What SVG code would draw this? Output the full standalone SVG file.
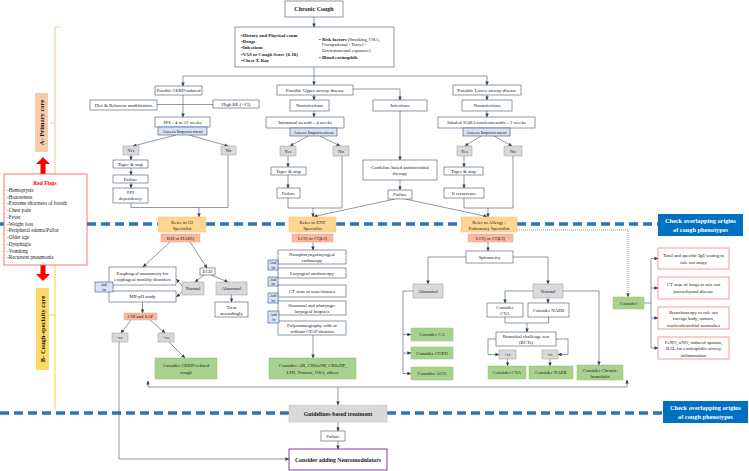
<svg xmlns="http://www.w3.org/2000/svg" width="749" height="471" viewBox="0 0 749 471">
<defs>
<marker id="a" markerWidth="4" markerHeight="4" refX="3.6" refY="2" orient="auto-start-reverse" markerUnits="userSpaceOnUse"><path d="M0,0.3 L4,2 L0,3.7z" fill="#2f3f57"/></marker>
<style>
text{font-family:"Liberation Serif","Times New Roman",serif;font-size:4.8px;fill:#1a1a1a;text-anchor:middle}
.l{text-anchor:start}
.bd{font-weight:bold}
.n rect{fill:#fff;stroke:#44546a;stroke-width:0.6}
.g rect{fill:#d9d9d9;stroke:#a6a6a6;stroke-width:0.6}
.o rect{fill:#ffd592;stroke:#f6c07a;stroke-width:0.5}
.s rect{fill:#f8b8a0;stroke:#f4a582;stroke-width:0.5}
.gr rect{fill:#a9d18e;stroke:#90c070;stroke-width:0.5}
.bl rect{fill:#dae3f3;stroke:#2f5597;stroke-width:0.6}
.p rect{fill:#fff;stroke:#ff7c80;stroke-width:0.8}
.ck rect{fill:#0070c0}
.ck text{fill:#fff;font-weight:bold;font-size:6.3px}
.ao text{font-size:3.8px}
#conn path{fill:none;stroke:#44546a;stroke-width:0.6}
#conn .ar{marker-end:url(#a)}
.dash{fill:none;stroke:#2e75b6;stroke-width:3.5;stroke-dasharray:9 5}
</style>
</defs>
<rect width="749" height="471" fill="#fff"/>

<!-- brackets -->
<path d="M60,27 H55 V174 M50,123 H55" fill="none" stroke="#f4b183" stroke-width="0.8"/>
<path d="M55,265 V410 M49,315 H55" fill="none" stroke="#ffc000" stroke-width="0.8"/>
<g id="labelA"><rect x="35" y="93" width="13" height="59" fill="#f8cbad"/><text class="bd" transform="translate(43.6,122.5) rotate(-90)" style="font-size:6.5px">A- Primary care</text></g>
<g id="labelB"><rect x="36" y="288" width="13" height="82" fill="#ffd966"/><text class="bd" transform="translate(44.6,329) rotate(-90)" style="font-size:6.5px">B- Cough-specialty care</text></g>

<!-- dashed separators -->
<path class="dash" d="M0,224 H4 M87,224 H158 M206,224 H289 M336,224 H461 M517,224 H658"/>
<path class="dash" d="M0,413 H289 M387,413 H663"/>

<!-- red arrows -->
<g id="redarrows" fill="#ff0000">
<path d="M40.5,175 V164 H36 L43,157 L50,164 H45.5 V175z"/>
<path d="M40.5,265 V274 H36 L43,281 L50,274 H45.5 V265z"/>
</g>
<g id="redflags">
<rect x="4" y="174" width="83" height="91" fill="#fff" stroke="#ff5050" stroke-width="0.8"/>
<text x="45" y="184.5" class="bd" style="fill:#ff0000;font-size:5.5px">Red Flags</text>
<g style="font-size:5.2px">
<text class="l" x="7" y="191.7" style="font-size:5.2px">-Hemoptysis</text>
<text class="l" x="7" y="198.5" style="font-size:5.2px">-Hoarseness</text>
<text class="l" x="7" y="205.2" style="font-size:5.2px">-Extreme shortness of breath</text>
<text class="l" x="7" y="212" style="font-size:5.2px">-Chest pain</text>
<text class="l" x="7" y="218.8" style="font-size:5.2px">-Fever</text>
<text class="l" x="7" y="225.5" style="font-size:5.2px">-Weight loss</text>
<text class="l" x="7" y="232.3" style="font-size:5.2px">-Peripheral edema/Pallor</text>
<text class="l" x="7" y="239.1" style="font-size:5.2px">-Older age</text>
<text class="l" x="7" y="245.8" style="font-size:5.2px">-Dysphagia</text>
<text class="l" x="7" y="252.6" style="font-size:5.2px">-Vomiting</text>
<text class="l" x="7" y="259.4" style="font-size:5.2px">-Recurrent pneumonia</text>
</g>
</g>

<!-- connectors -->
<g id="conn">
<path class="ar" d="M314,17 V27"/>
<path d="M183,76 H487"/>
<path class="ar" d="M183,76 V86"/>
<path class="ar" d="M314,67 V85"/>
<path class="ar" d="M487,76 V85"/>
<path class="ar" d="M353,89 H400 V100"/>
<path class="ar" d="M183,95 V117"/>
<path d="M157,104.5 H213"/>
<path class="ar" d="M176,135 L133,146"/>
<path class="ar" d="M189,135 L228,146"/>
<path class="ar" d="M131,155 V160"/>
<path class="ar" d="M131,168 V175"/>
<path class="ar" d="M131,183 V188"/>
<path d="M131,203 V207.5 H228 M228,155 V207.5"/>
<path class="ar" d="M199,207.5 V217"/>
<path class="ar" d="M170,242 L143,267"/>
<path class="ar" d="M190,242 L207,268"/>
<path class="ar" d="M204,275 L195,282"/>
<path class="ar" d="M211,275 L228,282"/>
<path class="ar" d="M231.5,295 V302"/>
<path class="ar" d="M182,286 L176.5,279"/>
<path class="ar" d="M182,292 L176.5,297"/>
<path class="ar" d="M142.5,302 V313"/>
<path class="ar" d="M131,320 L121,333"/>
<path class="ar" d="M150,320 L165,333"/>
<path class="ar" d="M169,342 L185,358"/>
<path class="ar" d="M119,342 V459 H289"/>
<path class="ar" d="M148,381 V387 H627 V380" style="marker-start:url(#a)"/>
<path class="ar" d="M338,387 V405"/>
<path class="ar" d="M338,422 V431"/>
<path class="ar" d="M338,441 V449"/>
<!-- ENT -->
<path class="ar" d="M314,95 V100"/>
<path class="ar" d="M314,111 V117"/>
<path class="ar" d="M308,136 L290,146"/>
<path class="ar" d="M320,136 L340,146"/>
<path class="ar" d="M288,156 V167"/>
<path class="ar" d="M288,175 V188"/>
<path d="M288,198 V208 H342 M342,156 V208"/>
<path class="ar" d="M313,208 V217"/>
<path class="ar" d="M313,242 V250"/>
<path class="ar" d="M313,335 V358"/>
<!-- infectious -->
<path class="ar" d="M400,111 V160"/>
<path class="ar" d="M400,180 V190"/>
<path class="ar" d="M395,199 L314,216.5"/>
<path class="ar" d="M405,199 L487,216.5"/>
<!-- lower airway -->
<path class="ar" d="M487,95 V100"/>
<path class="ar" d="M487,111 V117"/>
<path class="ar" d="M481,136 L465,146"/>
<path class="ar" d="M494,136 L512,146"/>
<path class="ar" d="M464,156 V167"/>
<path class="ar" d="M464,175 V188"/>
<path d="M464,198 V208 H513 M513,156 V208"/>
<path class="ar" d="M488,208 V217"/>
<path class="ar" d="M488,242 V251"/>
<path class="ar" d="M466,257 H428 V284"/>
<path class="ar" d="M513,257 H548 V284"/>
<path class="ar" d="M413,291 H403 V373.5 H411"/>
<path class="ar" d="M403,334.5 H411"/>
<path class="ar" d="M403,353 H411"/>
<path class="ar" d="M533,291 H505 V303"/>
<path class="ar" d="M548,298 V303"/>
<path class="ar" d="M563,291 H599 V365"/>
<path d="M505,317 V323 H548.5 V317"/>
<path class="ar" d="M527,323 V332"/>
<path class="ar" d="M496,339 H488 V354.5 H499"/>
<path class="ar" d="M556,339 H568 V354.5 H558"/>
<path class="ar" d="M507.5,359 V366"/>
<path class="ar" d="M550,359 V366"/>
<path class="ar" d="M517,230 H628 V297" style="stroke-dasharray:1 1"/>
<path d="M644,303 H651 M651,258.5 V348"/>
<path class="ar" d="M651,258.5 H658"/>
<path class="ar" d="M651,288 H658"/>
<path class="ar" d="M651,318 H658"/>
<path class="ar" d="M651,348 H658"/>
</g>

<!-- top -->
<g id="chronic" class="n"><rect x="285" y="1" width="58" height="16"/><text x="314" y="11.2" class="bd" style="font-size:6px">Chronic Cough</text></g>
<g id="history" class="n"><rect x="235" y="27" width="159" height="40"/>
<text class="l bd" x="241" y="36.7">•History and Physical exam</text>
<text class="l bd" x="241" y="42.9">•Drugs</text>
<text class="l bd" x="241" y="49.3">•Infections</text>
<text class="l bd" x="241" y="55.6">•VAS or Cough Score (0-10)</text>
<text class="l bd" x="241" y="61.9">•Chest X-Ray</text>
<text class="l" x="319" y="40.5"><tspan class="bd">• Risk factors</tspan> (Smoking, OSA,</text>
<text class="l" x="322" y="46.3">Occupational / Travel /</text>
<text class="l" x="322" y="52.3">Environmental exposure)</text>
<text class="l bd" x="319" y="58.5">• Blood eosinophils</text>
</g>

<!-- GERD column -->
<g id="gerd" class="n"><rect x="155" y="86" width="47" height="9"/><text x="178.5" y="92.2" style="font-size:4.5px">Possible GERD-induced</text></g>
<g id="diet" class="n"><rect x="90" y="100" width="67" height="10"/><text x="123.5" y="106.7">Diet &amp; Behavior modification</text></g>
<g id="highbe" class="n"><rect x="213" y="100" width="46" height="8"/><text x="236" y="105.7">High BE (&gt;13)</text></g>
<g id="ppi" class="n"><rect x="155" y="117" width="55" height="10"/><text x="182.5" y="123.7">PPI – 4 to 12 weeks</text></g>
<g id="assess1" class="bl"><rect x="158" y="127" width="49" height="8"/><text x="182.5" y="132.7">Assess Improvement</text></g>
<g id="yes1" class="g"><rect x="123" y="146" width="16" height="9"/><text x="131" y="152.2">Yes</text></g>
<g id="no1" class="g"><rect x="221" y="146" width="15" height="9"/><text x="228.5" y="152.2">No</text></g>
<g id="taper1" class="n"><rect x="113" y="160" width="35" height="8"/><text x="130.5" y="165.7">Taper &amp; stop</text></g>
<g id="fail1" class="n"><rect x="113" y="175" width="35" height="8"/><text x="130.5" y="180.7">Failure</text></g>
<g id="ppidep" class="n"><rect x="113" y="188" width="35" height="15"/><text x="130.5" y="194.2">PPI</text><text x="130.5" y="200.2">dependency</text></g>
<g id="gi" class="o"><rect x="158" y="217" width="48" height="15"/><text x="182" y="223.5">Refer to GI</text><text x="182" y="229.5">Specialist</text></g>
<g id="rsi" class="s"><rect x="161" y="234" width="39" height="8"/><text x="180.5" y="239.7">RSI or HARQ</text></g>
<g id="mano" class="n"><rect x="109" y="267" width="67" height="18"/><text x="142.5" y="274.5">Esophageal manometry for</text><text x="142.5" y="280.5">esophageal motility disorders</text></g>
<g id="mii" class="n"><rect x="109" y="291" width="67" height="11"/><text x="142.5" y="298.2">MII-pH study</text></g>
<g id="andor1" class="bl ao"><rect x="95" y="282" width="18" height="10"/><text x="104" y="286.3">and</text><text x="104" y="290.5">/or</text></g>
<g id="egd" class="n"><rect x="200" y="268" width="15" height="7"/><text x="207.5" y="273.2">EGD</text></g>
<g id="normal1" class="g"><rect x="182" y="282" width="22" height="13"/><text x="193" y="290.2">Normal</text></g>
<g id="abn1" class="g"><rect x="216" y="282" width="31" height="13"/><text x="231.5" y="290.2">Abnormal</text></g>
<g id="treat" class="n"><rect x="215" y="302" width="33" height="15"/><text x="231.5" y="308.5">Treat</text><text x="231.5" y="314.5">accordingly</text></g>
<g id="csi" class="s"><rect x="124" y="313" width="33" height="7"/><text x="140.5" y="318.2">CSI and SAP</text></g>
<g id="neg1" class="g"><rect x="112" y="333" width="16" height="9"/><text x="120" y="339.2">-ve</text></g>
<g id="pos1" class="g"><rect x="158" y="333" width="16" height="9"/><text x="166" y="339.2">+ve</text></g>
<g id="gerdcough" class="gr"><rect x="155" y="358" width="62" height="21"/><text x="186" y="367">Consider GERD-related</text><text x="186" y="373.5">cough</text></g>

<!-- ENT column -->
<g id="upper" class="n"><rect x="277" y="85" width="76" height="10"/><text x="315" y="91.7">Possible Upper airway disease</text></g>
<g id="nonin1" class="n"><rect x="290" y="100" width="39" height="11"/><text x="309.5" y="107.2">Noninfectious</text></g>
<g id="intranasal" class="n"><rect x="266" y="117" width="78" height="11"/><text x="305" y="124.2">Intranasal steroid – 4 weeks</text></g>
<g id="assess2" class="bl"><rect x="290" y="128" width="47" height="8"/><text x="313.5" y="133.7">Assess Improvement</text></g>
<g id="yes2" class="g"><rect x="280" y="146" width="16" height="10"/><text x="288" y="152.7">Yes</text></g>
<g id="no2" class="g"><rect x="333" y="146" width="16" height="10"/><text x="341" y="152.7">No</text></g>
<g id="taper2" class="n"><rect x="271" y="167" width="35" height="8"/><text x="288.5" y="172.7">Taper &amp; stop</text></g>
<g id="fail2" class="n"><rect x="277" y="188" width="23" height="10"/><text x="288.5" y="194.7">Failure</text></g>
<g id="ent" class="o"><rect x="289" y="217" width="47" height="15"/><text x="312.5" y="223.5">Refer to ENT</text><text x="312.5" y="229.5">Specialist</text></g>
<g id="lcq1" class="s"><rect x="292" y="234" width="41" height="8"/><text x="312.5" y="239.7">LCQ or CQLQ</text></g>
<g id="naso" class="n"><rect x="278" y="250" width="68" height="14"/><text x="312" y="256">Nasopharyngolaryngeal</text><text x="312" y="262">endoscopy</text></g>
<g id="laryn" class="n"><rect x="278" y="268" width="68" height="10"/><text x="312" y="274.7">Laryngeal stroboscopy</text></g>
<g id="ctnose" class="n"><rect x="278" y="285" width="68" height="12"/><text x="312" y="292.7">CT scan of nose/sinuses</text></g>
<g id="sino" class="n"><rect x="278" y="301" width="68" height="14"/><text x="312" y="307">Sinonasal and pharyngo-</text><text x="312" y="313">laryngeal biopsies</text></g>
<g id="poly" class="n"><rect x="278" y="321" width="68" height="14"/><text x="312" y="327">Polysomnography with or</text><text x="312" y="333">without CPAP titration</text></g>
<g id="andor2" class="bl ao"><rect x="268" y="260" width="10" height="10"/><text x="273" y="264.3">And</text><text x="273" y="268.5">/or</text></g>
<g id="andor3" class="bl ao"><rect x="268" y="277" width="10" height="9"/><text x="273" y="281">And</text><text x="273" y="285">/or</text></g>
<g id="andor4" class="bl ao"><rect x="268" y="293" width="10" height="10"/><text x="273" y="297.3">And</text><text x="273" y="301.5">/or</text></g>
<g id="andor5" class="bl ao"><rect x="268" y="311" width="11" height="12"/><text x="273.5" y="316.3">And</text><text x="273.5" y="320.7">/or</text></g>
<g id="entcons" class="gr"><rect x="269" y="358" width="87" height="21"/><text x="312.5" y="367">Consider: AR, CRSwNP, CRSsNP,</text><text x="312.5" y="374">LPR, Tumors, OSA, others</text></g>

<!-- Infectious -->
<g id="infect" class="n"><rect x="373" y="100" width="54" height="11"/><text x="400" y="107.2">Infectious</text></g>
<g id="antimic" class="n"><rect x="363" y="160" width="74" height="20"/><text x="400" y="168.5">Guideline based antimicrobial</text><text x="400" y="175">therapy</text></g>
<g id="fail3" class="n"><rect x="388" y="190" width="24" height="9"/><text x="400" y="196.2">Failure</text></g>

<!-- Lower airway -->
<g id="lower" class="n"><rect x="453" y="85" width="68" height="10"/><text x="487" y="91.7">Possible Lower airway disease</text></g>
<g id="nonin2" class="n"><rect x="462" y="100" width="50" height="11"/><text x="487" y="107.2">Noninfectious</text></g>
<g id="inhaled" class="n"><rect x="438" y="117" width="97" height="11"/><text x="486.5" y="124.2">Inhaled SABA/corticosteroids – 2 weeks</text></g>
<g id="assess3" class="bl"><rect x="463" y="128" width="47" height="8"/><text x="486.5" y="133.7">Assess Improvement</text></g>
<g id="yes3" class="g"><rect x="457" y="146" width="15" height="10"/><text x="464.5" y="152.7">Yes</text></g>
<g id="no3" class="g"><rect x="504" y="146" width="18" height="10"/><text x="513" y="152.7">No</text></g>
<g id="taper3" class="n"><rect x="444" y="167" width="39" height="8"/><text x="463.5" y="172.7">Taper &amp; stop</text></g>
<g id="ifrec" class="n"><rect x="444" y="188" width="40" height="10"/><text x="464" y="194.7">If recurrence</text></g>
<g id="allergy" class="o"><rect x="461" y="217" width="56" height="15"/><text x="489" y="223.5">Refer to Allergy /</text><text x="489" y="229.5">Pulmonary  Specialist</text></g>
<g id="lcq2" class="s"><rect x="468" y="234" width="45" height="8"/><text x="490.5" y="239.7">LCQ or CQLQ</text></g>
<g id="spiro" class="n"><rect x="466" y="251" width="47" height="12"/><text x="489.5" y="258.7">Spirometry</text></g>
<g id="abn2" class="g"><rect x="413" y="284" width="30" height="14"/><text x="428" y="292.7">Abnormal</text></g>
<g id="norm2" class="g"><rect x="533" y="284" width="30" height="14"/><text x="548" y="292.7">Normal</text></g>
<g id="ca" class="gr"><rect x="411" y="328" width="42" height="13"/><text x="432" y="336.2">Consider CA</text></g>
<g id="copd" class="gr"><rect x="411" y="347" width="42" height="12"/><text x="432" y="354.7">Consider COPD</text></g>
<g id="aco" class="gr"><rect x="411" y="367" width="42" height="13"/><text x="432" y="375.2">Consider ACO</text></g>
<g id="cva1" class="n"><rect x="487" y="303" width="36" height="14"/><text x="505" y="309">Consider</text><text x="505" y="315">CVA</text></g>
<g id="naeb1" class="n"><rect x="528" y="303" width="41" height="14"/><text x="548.5" y="311.7">Consider NAEB</text></g>
<g id="bct" class="n"><rect x="496" y="332" width="60" height="14"/><text x="526" y="338">Bronchial challenge test</text><text x="526" y="344">(BCTs)</text></g>
<g id="pos2" class="g"><rect x="499" y="350" width="17" height="9"/><text x="507.5" y="356.2">+ve</text></g>
<g id="neg2" class="g"><rect x="542" y="350" width="16" height="9"/><text x="550" y="356.2">-ve</text></g>
<g id="cva2" class="gr"><rect x="488" y="366" width="38" height="13"/><text x="507" y="374.2">Consider CVA</text></g>
<g id="naeb2" class="gr"><rect x="529" y="366" width="44" height="13"/><text x="551" y="374.2">Consider NAEB</text></g>
<g id="chronbr" class="gr"><rect x="577" y="365" width="46" height="15"/><text x="600" y="371.5">Consider Chronic</text><text x="600" y="377.5">bronchitis</text></g>

<!-- right side -->
<g id="consider" class="gr"><rect x="613" y="297" width="31" height="12"/><text x="628.5" y="304.7">Consider</text></g>
<g id="ige" class="p"><rect x="658" y="248" width="71" height="21"/><text x="693.5" y="257">Total and specific IgE testing to</text><text x="693.5" y="264">rule out atopy</text></g>
<g id="ctlung" class="p"><rect x="658" y="277" width="71" height="22"/><text x="693.5" y="286.3">CT scan of lungs to rule out</text><text x="693.5" y="293.3">parenchymal disease</text></g>
<g id="broncho" class="p"><rect x="658" y="307" width="71" height="22"/><text x="693.5" y="313.5">Bronchoscopy  to rule out</text><text x="693.5" y="320">foreign body, tumors,</text><text x="693.5" y="326.5">tracheobronchial anomalies</text></g>
<g id="feno" class="p"><rect x="658" y="337" width="71" height="22"/><text x="693.5" y="343.5">FeNO, nNO, induced sputum,</text><text x="693.5" y="350">BAL for eosinophilic airway</text><text x="693.5" y="356.5">inflammation</text></g>
<g id="check1" class="ck"><rect x="658" y="214" width="85" height="22"/><text x="700.5" y="223.3">Check overlapping origins</text><text x="700.5" y="231.8">of cough phenotypes</text></g>
<g id="check2" class="ck"><rect x="663" y="401" width="85" height="22"/><text x="705.5" y="410.3">Check overlapping origins</text><text x="705.5" y="418.8">of cough phenotypes</text></g>

<!-- bottom -->
<g id="guide"><rect x="289" y="405" width="98" height="17" fill="#d9d9d9" stroke="#bfbfbf" stroke-width="0.5"/><text x="338" y="415.5" class="bd" style="font-size:5.8px">Guidelines-based treatment</text></g>
<g id="fail4" class="n"><rect x="321" y="431" width="24" height="10"/><text x="333" y="437.7">Failure</text></g>
<g id="neuro"><rect x="289" y="449" width="98" height="21" fill="#fff" stroke="#7030a0" stroke-width="0.9"/><text x="338" y="461.5" class="bd" style="font-size:5.8px">Consider adding Neuromodulators</text></g>
</svg>
